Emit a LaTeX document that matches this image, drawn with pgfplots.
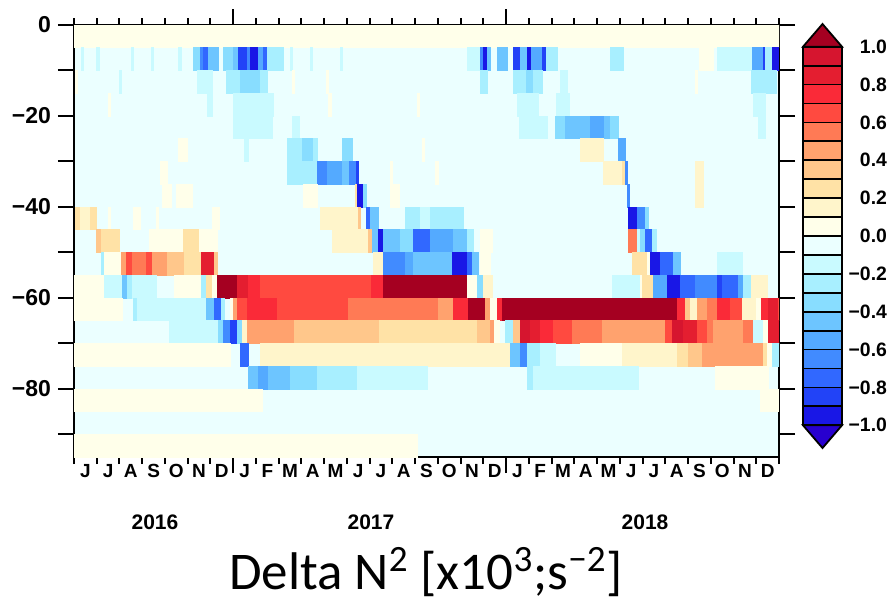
\documentclass[border=0pt]{standalone}
\usepackage{fontspec}
\setmainfont{Liberation Sans}
\newfontfamily\labelfont{Carlito}
\usepackage{pgfplots}
\pgfplotsset{compat=1.18}

% discrete levels, p = positive, n = negative
\definecolor{p11}{HTML}{A50021}
\definecolor{p10}{HTML}{D6152F}
\definecolor{p9}{HTML}{E41E30}
\definecolor{p8}{HTML}{FA2A38}
\definecolor{p7}{HTML}{FF4A40}
\definecolor{p6}{HTML}{FF7A55}
\definecolor{p5}{HTML}{FFA26E}
\definecolor{p4}{HTML}{FFC78B}
\definecolor{p3}{HTML}{FFE2A6}
\definecolor{p2}{HTML}{FFF5CB}
\definecolor{p1}{HTML}{FFFFEA}
\definecolor{n1}{HTML}{EBFFFF}
\definecolor{n2}{HTML}{C9FAFF}
\definecolor{n3}{HTML}{A8EFFF}
\definecolor{n4}{HTML}{88DDFF}
\definecolor{n5}{HTML}{6DC5FF}
\definecolor{n6}{HTML}{54AAFF}
\definecolor{n7}{HTML}{418BFF}
\definecolor{n8}{HTML}{3168FF}
\definecolor{n9}{HTML}{2243F7}
\definecolor{n10}{HTML}{1917E6}
\definecolor{n11}{HTML}{2800CF}

% one depth band: top, bottom, list of start/end/level (months since 1 Jun 2016)
\newcommand\band[3]{\foreach \xa/\xb/\cl in {#3}{%
  \edef\tmp{\noexpand\addplot[draw=\cl,fill=\cl,line width=0.3pt] coordinates {(\xa,#1) (\xb,#1) (\xb,#2) (\xa,#2)} -- cycle;}\tmp}}

\begin{document}
\begin{tikzpicture}
\begin{axis}[
  at={(0,0)}, anchor=south west,
  scale only axis, width=352.5pt, height=216pt,
  xmin=0, xmax=31, ymin=-95, ymax=0,
  axis background/.style={fill=n1},
  axis line style={line width=1pt},
  tick align=outside,
  every tick/.style={black, line width=1pt},
  major tick length=8pt, minor tick length=3.5pt,
  xtick pos=both, ytick pos=both,
  xticklabel pos=lower, yticklabel pos=left,
  xtick={7,19}, xticklabels={},
  minor xtick={0,...,31},
  extra x ticks={0.5,1.5,...,30.5},
  extra x tick labels={J,J,A,S,O,N,D,J,F,M,A,M,J,J,A,S,O,N,D,J,F,M,A,M,J,J,A,S,O,N,D},
  extra x tick style={major tick length=0pt},
  xticklabel style={font=\bfseries\fontsize{9.5}{11}\selectfont},
  ytick={-90,-80,...,0},
  yticklabels={,−80,,−60,,−40,,−20,,0},
  yticklabel style={font=\bfseries\fontsize{11.5}{13}\selectfont},
]
\band{0}{-5}{0/31/p1}
\band{-5}{-10}{0.3/0.4/n2, 1.0/1.1/n2, 2.5/2.6/n2, 3.4/3.5/n2, 4.6/4.7/n2, 5.23/5.54/n4, 5.54/5.67/n7, 5.67/5.89/n8, 5.89/6.33/n5, 6.55/6.99/n4, 6.99/7.21/n5, 7.21/7.61/n9, 7.61/7.74/n7, 7.74/8.09/n10, 8.09/8.31/n6, 8.31/8.49/n8, 8.49/9.19/n3, 9.5/9.6/n2, 10.4/10.5/n2, 11.7/11.8/n2, 17.3/17.85/n2, 17.85/17.99/n7, 17.99/18.16/n10, 18.16/18.3/n5, 18.6/19.04/n5, 19.3/19.61/n9, 19.61/19.92/n5, 19.92/20.1/n10, 20.1/20.58/n6, 20.58/20.76/n9, 20.76/21.24/n3, 23.57/24.14/n3, 27.5/28.1/p1, 28.3/29.82/n2, 29.82/30.3/n6, 30.3/30.39/n9, 30.39/30.69/n3, 30.69/30.96/n10}
\band{-10}{-15}{0.05/0.15/p1, 2.0/2.1/n2, 5.4/6.1/n2, 6.7/7.3/n3, 7.3/8.2/n4, 8.2/8.5/n3, 9.6/9.7/p1, 11.1/11.2/p1, 17.85/18.16/n3, 19.3/19.9/n3, 19.9/20.2/n4, 20.2/20.6/n3, 21.4/21.7/n2, 27.3/27.4/p1, 29.8/30.9/n3}
\band{-15}{-20}{1.5/1.6/p1, 5.85/6.1/n2, 7.0/8.75/n2, 11.2/11.3/p1, 15.1/15.2/p1, 19.5/20.4/n2, 21.2/21.8/n2, 29.86/30.39/n2}
\band{-20}{-25}{7.0/8.7/n2, 9.6/9.9/n2, 19.6/20.8/n2, 21.15/21.6/n4, 21.6/22.7/n5, 22.7/23.3/n6, 23.3/23.6/n5, 23.6/23.92/n4, 30.1/30.4/n2}
\band{-25}{-30}{4.57/4.97/p1, 7.5/7.65/n2, 9.37/10.03/n3, 10.03/10.51/n4, 10.51/10.69/n3, 11.79/12.22/n4, 15.3/15.4/p1, 22.25/23.26/p2, 23.92/24.23/n6}
\band{-30}{-35}{3.78/4.09/p1, 9.37/10.69/n3, 10.69/11.13/n7, 11.13/11.79/n6, 11.79/12.1/n5, 12.1/12.4/n7, 12.4/12.5/n9, 13.9/14.0/p1, 15.9/16.0/p1, 23.26/24.1/p2, 24.1/24.23/p3, 24.23/24.32/n7, 27.3/27.66/p2}
\band{-35}{-40}{3.9/4.3/p1, 4.5/5.2/p1, 10.07/10.69/p1, 12.35/12.45/p3, 12.45/12.71/n10, 12.71/12.84/n4, 13.9/14.3/p1, 24.32/24.41/n7, 27.3/27.66/p2}
\band{-40}{-45}{0.04/0.26/p3, 0.26/0.7/p2, 0.7/1.0/p3, 1.5/1.6/p1, 2.59/2.9/p1, 3.6/3.7/p1, 6.1/6.4/p1, 10.82/12.49/p2, 12.49/12.6/p4, 12.84/13.02/n8, 13.02/13.37/n5, 14.56/15.22/n3, 15.22/15.66/n2, 15.66/17.11/n3, 24.36/24.76/n10, 24.76/25.11/n7, 25.11/25.24/n4}
\band{-45}{-50}{1.0/1.2/p4, 1.2/2.0/p3, 3.3/4.8/p1, 4.8/5.5/p3, 5.5/6.3/p1, 11.35/12.93/p2, 12.93/13.1/p4, 13.1/13.37/n5, 13.37/13.59/n10, 13.59/14.34/n5, 14.34/14.91/n4, 14.91/15.66/n8, 15.66/16.67/n6, 16.67/17.28/n5, 17.28/17.55/n3, 17.85/18.4/p1, 24.36/24.76/p6, 24.76/24.89/n2, 24.89/25.11/n4, 25.11/25.42/n8, 25.42/25.6/n3}
\band{-50}{-55}{1.19/1.32/n3, 1.32/2.07/p1, 2.07/2.29/p5, 2.29/2.55/p7, 2.55/3.17/p6, 3.17/3.43/p7, 3.43/4.09/p5, 4.09/4.84/p4, 4.84/5.58/p3, 5.58/6.16/p9, 6.16/6.29/p4, 13.15/13.59/p2, 13.59/14.56/n7, 14.56/14.91/n6, 14.91/16.62/n5, 16.62/17.28/n10, 17.28/17.5/n8, 17.5/17.77/n5, 17.85/18.3/p1, 24.54/25.2/p3, 25.2/25.33/p1, 25.33/25.77/n10, 25.77/26.34/n8, 26.34/26.64/n5, 28.3/29.4/n2}
\band{-55}{-60}{0/1.32/p1, 1.32/2.11/n2, 2.11/2.33/n5, 2.33/2.55/n3, 2.55/3.61/n2, 4.4/5.58/p1, 5.58/5.8/n3, 5.8/6.07/p3, 6.07/6.29/p1, 6.29/7.17/p11, 7.17/7.65/p9, 7.65/8.18/p8, 8.18/13.06/p7, 13.06/13.59/p8, 13.59/17.28/p11, 17.28/17.72/p1, 17.72/17.99/n4, 17.99/18.38/p2, 23.66/24.89/n2, 24.89/25.0/p1, 25.0/25.46/p3, 25.46/26.08/n6, 26.08/26.64/n10, 26.64/27.3/n8, 27.3/28.3/n7, 28.3/28.5/n9, 28.5/29.2/n8, 29.2/29.45/n6, 29.45/29.8/n3, 29.8/30.5/p2}
\band{-60}{-65}{0/2.11/p1, 2.59/2.77/n3, 2.77/5.8/n2, 5.8/6.16/n5, 6.16/6.46/n8, 6.46/6.6/n3, 6.86/7.0/p1, 7.0/7.17/p5, 7.17/7.61/p7, 7.61/8.93/p8, 8.93/12.05/p7, 12.05/16.01/p6, 16.01/16.67/p5, 16.67/17.33/p8, 17.33/18.07/p11, 18.07/18.3/p5, 18.3/18.6/p1, 18.6/18.82/p8, 18.82/26.52/p11, 26.52/26.87/p8, 26.87/27.09/p4, 27.09/27.4/p2, 27.4/27.84/p5, 27.84/28.28/p6, 28.28/28.85/p8, 28.85/29.38/p7, 29.38/30.0/p2, 30.0/30.2/p1, 30.2/30.52/p8, 30.52/30.96/p9, 30.96/31/p7}
\band{-65}{-70}{4.18/6.33/n2, 6.33/6.55/n4, 6.55/6.86/n7, 6.86/7.17/n9, 7.17/7.4/n4, 7.4/7.61/p2, 7.61/9.68/p5, 9.68/13.41/p4, 13.41/17.72/p3, 17.72/18.29/p4, 18.29/18.5/p5, 18.5/18.7/p1, 18.95/19.3/n3, 19.3/19.61/p4, 19.61/20.05/p10, 20.05/20.5/p9, 20.5/21.06/p8, 21.06/21.9/p7, 21.9/23.22/p6, 23.22/25.99/p5, 25.99/26.3/p7, 26.3/26.8/p10, 26.8/27.4/p9, 27.4/27.84/p7, 27.84/28.1/p6, 28.1/29.42/p5, 29.42/29.86/p6, 29.86/30.3/n2, 30.3/30.52/p1, 30.52/31/p9}
\band{-70}{-75}{0/6.86/p1, 7.3/7.65/n8, 8.18/19.17/p2, 19.17/19.61/n5, 19.61/19.92/n7, 19.92/20.49/n3, 20.49/21.15/n2, 22.25/24.1/p1, 24.1/26.52/p2, 26.52/27.0/p3, 27.0/27.62/p4, 27.62/30.3/p5, 30.3/30.5/p3, 30.5/30.7/p1, 30.7/31/n3}
\band{-75}{-80}{7.65/8.09/n5, 8.09/8.53/n6, 8.53/9.5/n5, 9.5/10.69/n4, 10.69/12.45/n3, 12.45/15.52/n2, 19.92/20.18/n3, 20.18/24.8/n2, 28.19/30.52/p1}
\band{-80}{-85}{0/8.27/p1, 30.17/30.96/p1}
\band{-90}{-95}{0/15.08/p1}
\end{axis}

% colour bar
\begin{axis}[
  at={(364.5pt,4.5pt)}, anchor=south west,
  scale only axis, width=19.5pt, height=212pt,
  xmin=0, xmax=1, ymin=-1.12, ymax=1.12,
  axis line style={draw=none}, clip=false,
  xtick=\empty,
  ytick={-1,-0.8,-0.6,-0.4,-0.2,0,0.2,0.4,0.6,0.8,1},
  yticklabels={−1.0,−0.8,−0.6,−0.4,−0.2,0.0,0.2,0.4,0.6,0.8,1.0},
  ytick pos=right, major tick length=0pt,
  yticklabel style={font=\bfseries\fontsize{9.7}{11}\selectfont, anchor=east, xshift=26pt},
]
\foreach \ya/\yb/\cl in {-1/-0.9/n10, -0.9/-0.8/n9, -0.8/-0.7/n8, -0.7/-0.6/n7, -0.6/-0.5/n6, -0.5/-0.4/n5, -0.4/-0.3/n4, -0.3/-0.2/n3, -0.2/-0.1/n2, -0.1/0/n1, 0/0.1/p1, 0.1/0.2/p2, 0.2/0.3/p3, 0.3/0.4/p4, 0.4/0.5/p5, 0.5/0.6/p6, 0.6/0.7/p7, 0.7/0.8/p8, 0.8/0.9/p9, 0.9/1/p10}{%
  \edef\tmp{\noexpand\addplot[fill=\cl, draw=black, line width=0.9pt] coordinates {(0,\ya) (1,\ya) (1,\yb) (0,\yb)} -- cycle;}\tmp}
\addplot[fill=p11, draw=black, line width=0.9pt] coordinates {(0,1) (1,1) (0.5,1.12)} -- cycle;
\addplot[fill=n11, draw=black, line width=0.9pt] coordinates {(0,-1) (1,-1) (0.5,-1.12)} -- cycle;
\end{axis}

\node[font=\bfseries\fontsize{10.5}{12}\selectfont] at (40.5pt,-32.5pt) {2016};
\node[font=\bfseries\fontsize{10.5}{12}\selectfont] at (148.5pt,-32.5pt) {2017};
\node[font=\bfseries\fontsize{10.5}{12}\selectfont] at (285.5pt,-32.5pt) {2018};
\node[font=\labelfont\fontsize{26.5}{30}\selectfont] at (176pt,-57.5pt) {Delta N\textsuperscript{2} [x10\textsuperscript{3};s\textsuperscript{−2}]};

\pgfresetboundingbox
\path (-37pt,-72pt) rectangle (409pt,228.5pt);
\end{tikzpicture}
\end{document}
